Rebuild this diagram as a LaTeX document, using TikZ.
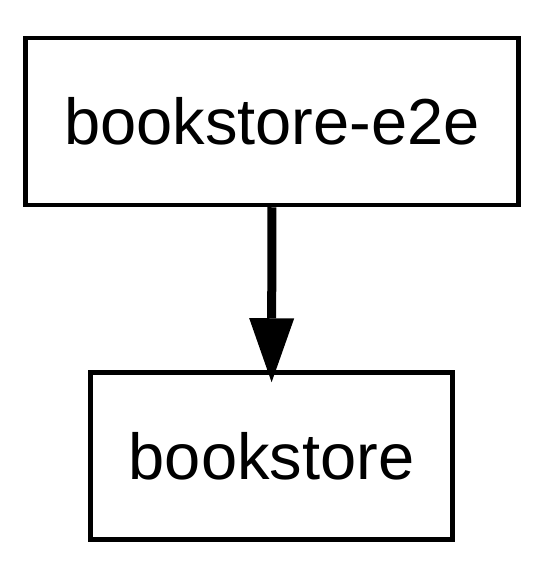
\documentclass[tikz,border=0pt]{standalone}
\usepackage{fontspec}
\setmainfont{Liberation Sans}
\usetikzlibrary{arrows.meta}
\begin{document}
\begin{tikzpicture}[
x=1pt, y=1pt,
package/.style={
% The shape:
rectangle,
% The size:
minimum height=167pt,
inner sep=0pt,
% The border:
line width=4.5pt,
draw=black,
% Font
font=\fontsize{65}{78}\selectfont
},
dependency/.style={
% The line:
line width=9pt,
% The tip:
-{Triangle[width=45pt,length=64pt,line width=0pt]},
shorten >=-12pt
}]
\useasboundingbox (0,0) rectangle (546,-580);
\node [package, minimum width=493pt] (e2e) at (272,-121.5) {bookstore-e2e};
\node [package, minimum width=362pt] (store) at (271.5,-456) {bookstore};
\draw [dependency] (e2e) -- (store);
\end{tikzpicture}
\end{document}
